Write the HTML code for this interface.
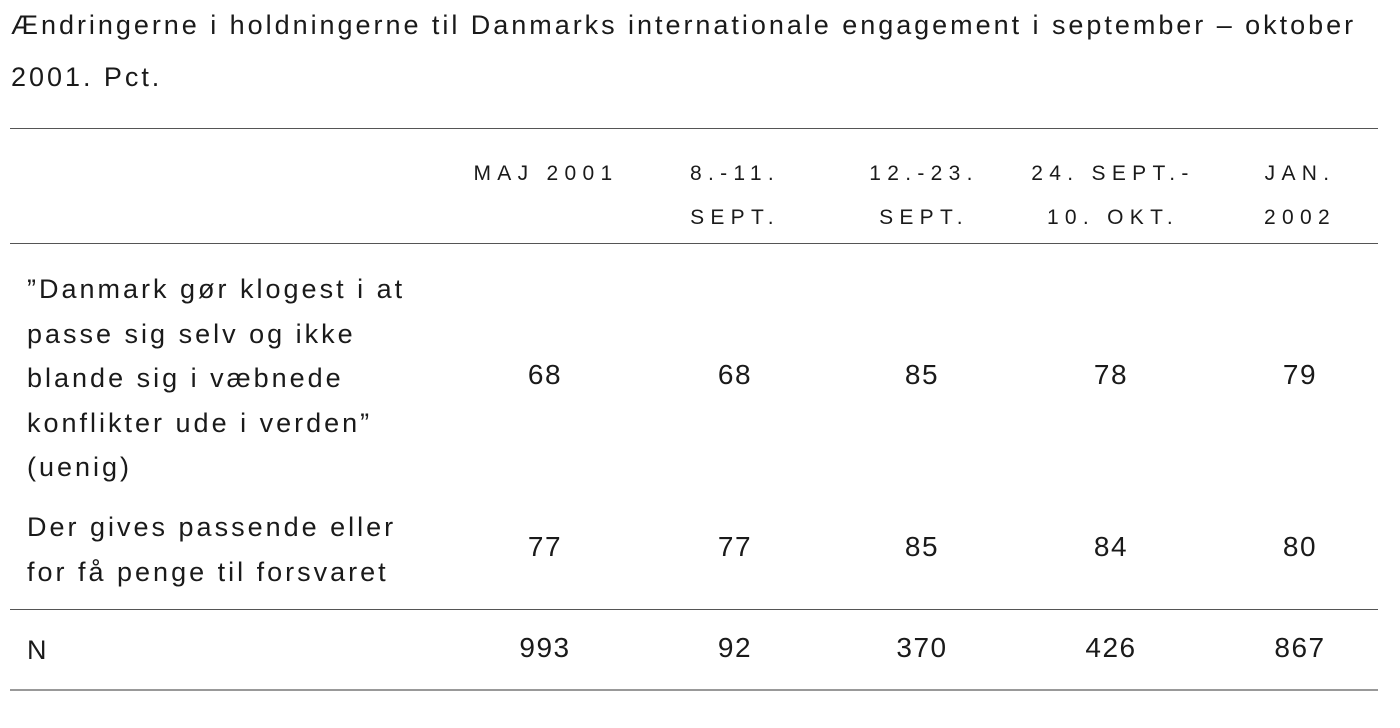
<!DOCTYPE html>
<html><head><meta charset="utf-8"><style>
body{margin:0;width:1400px;height:728px;background:#fff;font-family:"Liberation Sans",sans-serif;color:#1a1a1a;position:relative;overflow:hidden}
div{position:absolute;white-space:nowrap}
.t{font-size:27px;left:11px;letter-spacing:2.97px}
.r{left:10px;width:1368px;height:0;border-top:1.5px solid #555}
.h{font-size:21px;letter-spacing:6.3px;text-align:center;width:240px;line-height:44px}
.c{font-size:28px;text-align:center;width:200px;letter-spacing:1.5px}
.l{font-size:27px;left:27px;line-height:44.5px;letter-spacing:3px}
</style></head><body>
<div class="t" style="top:10px">Ændringerne i holdningerne til Danmarks internationale engagement i september – oktober</div>
<div class="t" style="top:62px">2001. Pct.</div>
<div class="r" style="top:128px"></div>
<div class="h" style="left:426px;top:152px">MAJ 2001</div>
<div class="h" style="left:615px;top:152px">8.-11.<br>SEPT.</div>
<div class="h" style="left:804px;top:152px">12.-23.<br>SEPT.</div>
<div class="h" style="left:993px;top:152px">24. SEPT.-<br>10. OKT.</div>
<div class="h" style="left:1180px;top:152px">JAN.<br>2002</div>
<div class="r" style="top:243px"></div>
<div class="l" style="top:267px">”Danmark gør klogest i at<br>passe sig selv og ikke<br>blande sig i væbnede<br>konflikter ude i verden”<br>(uenig)</div>
<div class="c" style="left:445px;top:359px">68</div>
<div class="c" style="left:635px;top:359px">68</div>
<div class="c" style="left:822px;top:359px">85</div>
<div class="c" style="left:1011px;top:359px">78</div>
<div class="c" style="left:1200px;top:359px">79</div>
<div class="l" style="top:505px">Der gives passende eller<br>for få penge til forsvaret</div>
<div class="c" style="left:445px;top:531px">77</div>
<div class="c" style="left:635px;top:531px">77</div>
<div class="c" style="left:822px;top:531px">85</div>
<div class="c" style="left:1011px;top:531px">84</div>
<div class="c" style="left:1200px;top:531px">80</div>
<div class="r" style="top:609px"></div>
<div class="l" style="top:628px">N</div>
<div class="c" style="left:445px;top:632px">993</div>
<div class="c" style="left:635px;top:632px">92</div>
<div class="c" style="left:822px;top:632px">370</div>
<div class="c" style="left:1011px;top:632px">426</div>
<div class="c" style="left:1200px;top:632px">867</div>
<div class="r" style="top:689px;border-top:2px solid #999"></div>
</body></html>
